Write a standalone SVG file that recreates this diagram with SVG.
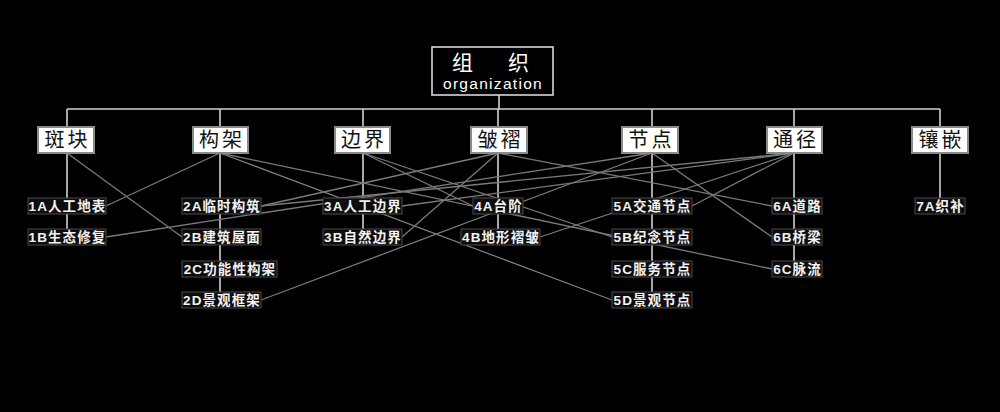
<svg xmlns="http://www.w3.org/2000/svg" width="1000" height="412" viewBox="0 0 1000 412">
<style>
.bg{fill:#000}
.tree{stroke:#d0d0d0;stroke-width:1.6;fill:none}
.cross{stroke:#7a7a7a;stroke-width:1.3;fill:none}
.topbox{fill:#000;stroke:#d8d8d8;stroke-width:1.6}
.l1box{fill:#fff;stroke:#8a8a8a;stroke-width:2}
.leaf{fill:#0d0d0d;stroke:#4a4a4a;stroke-width:1}
.t-top{font-family:"Noto Sans CJK SC","Liberation Sans",sans-serif;font-size:21px;fill:#fff}
.t-en{font-family:"Liberation Sans","Noto Sans",sans-serif;font-size:15.5px;fill:#fff;letter-spacing:1.3px}
.t-l1{font-family:"Noto Sans CJK SC",sans-serif;font-size:20px;fill:#111;letter-spacing:3px;text-anchor:middle}
.t-leaf{font-family:"Liberation Sans","Noto Sans CJK SC",sans-serif;font-size:13.5px;font-weight:bold;fill:#f2f2f2;letter-spacing:1.1px;text-anchor:middle}
</style>
<rect class="bg" x="0" y="0" width="1000" height="412"/>

<g id="connectors">
  <g id="tree-lines">
    <path class="tree" d="M499,95 V109 M67,109 H940 M67,109 V127 M220,109 V127 M363,109 V127 M498,109 V127 M652,109 V127 M794,109 V127 M940,109 V127"/>
    <path class="tree" d="M67,153 V198 M67,214 V229"/>
    <path class="tree" d="M220,153 V198 M220,214 V229 M220,245 V261 M220,277 V292"/>
    <path class="tree" d="M363,153 V198 M363,214 V229"/>
    <path class="tree" d="M498,153 V198 M498,214 V229"/>
    <path class="tree" d="M652,153 V198 M652,214 V229 M652,245 V261 M652,277 V292"/>
    <path class="tree" d="M794,153 V198 M794,214 V229 M794,245 V261"/>
    <path class="tree" d="M940,153 V198"/>
  </g>
  <g id="cross-lines">
    <line class="cross" x1="67" y1="153" x2="182" y2="237"/>
    <line class="cross" x1="220" y1="153" x2="106" y2="206"/>
    <line class="cross" x1="220" y1="153" x2="772" y2="269"/>
    <line class="cross" x1="220" y1="153" x2="612" y2="300"/>
    <line class="cross" x1="106" y1="237" x2="652" y2="153"/>
    <line class="cross" x1="261" y1="206" x2="498" y2="153"/>
    <line class="cross" x1="261" y1="206" x2="794" y2="153"/>
    <line class="cross" x1="261" y1="300" x2="652" y2="153"/>
    <line class="cross" x1="402" y1="206" x2="794" y2="153"/>
    <line class="cross" x1="363" y1="153" x2="473" y2="206"/>
    <line class="cross" x1="363" y1="153" x2="612" y2="237"/>
    <line class="cross" x1="498" y1="153" x2="402" y2="237"/>
    <line class="cross" x1="498" y1="153" x2="772" y2="206"/>
    <line class="cross" x1="652" y1="153" x2="772" y2="237"/>
    <line class="cross" x1="794" y1="153" x2="692" y2="206"/>
    <line class="cross" x1="794" y1="153" x2="540" y2="237"/>
  </g>
</g>

<g id="root">
  <rect class="topbox" x="432" y="47" width="121" height="48"/>
  <text class="t-top" x="452" y="70" letter-spacing="35">组织</text>
  <text class="t-en" x="493" y="88.5" text-anchor="middle">organization</text>
</g>

<g id="n1"><rect class="l1box" x="38" y="127" width="56" height="26"/><text class="t-l1" x="67.5" y="147">斑块</text></g>
<g id="n2"><rect class="l1box" x="193" y="127" width="55" height="26"/><text class="t-l1" x="222" y="147">构架</text></g>
<g id="n3"><rect class="l1box" x="335" y="127" width="55" height="26"/><text class="t-l1" x="364" y="147">边界</text></g>
<g id="n4"><rect class="l1box" x="471" y="127" width="56" height="26"/><text class="t-l1" x="500.5" y="147">皱褶</text></g>
<g id="n5"><rect class="l1box" x="622" y="127" width="56" height="26"/><text class="t-l1" x="651.5" y="147">节点</text></g>
<g id="n6"><rect class="l1box" x="767" y="127" width="55" height="26"/><text class="t-l1" x="796" y="147">通径</text></g>
<g id="n7"><rect class="l1box" x="912" y="127" width="56" height="26"/><text class="t-l1" x="941.5" y="147">镶嵌</text></g>

<g id="n1A"><rect class="leaf" x="28" y="198" width="78" height="16"/><text class="t-leaf" x="67.5" y="211">1A人工地表</text></g>
<g id="n1B"><rect class="leaf" x="28" y="229" width="78" height="16"/><text class="t-leaf" x="67.5" y="242">1B生态修复</text></g>
<g id="n2A"><rect class="leaf" x="182" y="198" width="79" height="16"/><text class="t-leaf" x="222" y="211">2A临时构筑</text></g>
<g id="n2B"><rect class="leaf" x="182" y="229" width="79" height="16"/><text class="t-leaf" x="222" y="242">2B建筑屋面</text></g>
<g id="n2C"><rect class="leaf" x="182" y="261" width="95" height="16"/><text class="t-leaf" x="230" y="274">2C功能性构架</text></g>
<g id="n2D"><rect class="leaf" x="182" y="292" width="79" height="16"/><text class="t-leaf" x="222" y="305">2D景观框架</text></g>
<g id="n3A"><rect class="leaf" x="323" y="198" width="79" height="16"/><text class="t-leaf" x="363" y="211">3A人工边界</text></g>
<g id="n3B"><rect class="leaf" x="323" y="229" width="79" height="16"/><text class="t-leaf" x="363" y="242">3B自然边界</text></g>
<g id="n4A"><rect class="leaf" x="473" y="198" width="50" height="16"/><text class="t-leaf" x="498.5" y="211">4A台阶</text></g>
<g id="n4B"><rect class="leaf" x="461" y="229" width="79" height="16"/><text class="t-leaf" x="501" y="242">4B地形褶皱</text></g>
<g id="n5A"><rect class="leaf" x="612" y="198" width="80" height="16"/><text class="t-leaf" x="652.5" y="211">5A交通节点</text></g>
<g id="n5B"><rect class="leaf" x="612" y="229" width="80" height="16"/><text class="t-leaf" x="652.5" y="242">5B纪念节点</text></g>
<g id="n5C"><rect class="leaf" x="612" y="261" width="80" height="16"/><text class="t-leaf" x="652.5" y="274">5C服务节点</text></g>
<g id="n5D"><rect class="leaf" x="612" y="292" width="80" height="16"/><text class="t-leaf" x="652.5" y="305">5D景观节点</text></g>
<g id="n6A"><rect class="leaf" x="772" y="198" width="50" height="16"/><text class="t-leaf" x="797.5" y="211">6A道路</text></g>
<g id="n6B"><rect class="leaf" x="772" y="229" width="50" height="16"/><text class="t-leaf" x="797.5" y="242">6B桥梁</text></g>
<g id="n6C"><rect class="leaf" x="772" y="261" width="50" height="16"/><text class="t-leaf" x="797.5" y="274">6C脉流</text></g>
<g id="n7A"><rect class="leaf" x="915" y="198" width="50" height="16"/><text class="t-leaf" x="940.5" y="211">7A织补</text></g>
</svg>
